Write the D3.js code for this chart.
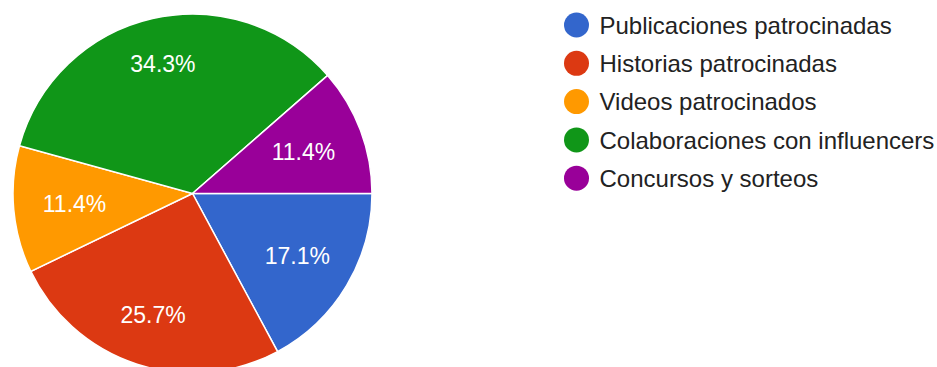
<!DOCTYPE html>
<html>
<head>
<meta charset="utf-8">
<script src="https://cdn.jsdelivr.net/npm/d3@7"></script>
<style>
  html, body { margin: 0; padding: 0; background: #fff; }
  svg { display: block; }
  text { font-family: "Liberation Sans", Arial, sans-serif; }
</style>
</head>
<body>
<svg id="chart" width="937" height="367"></svg>
<script>
// Response categories, counts and slice colours
const categories = [
  "Publicaciones patrocinadas",
  "Historias patrocinadas",
  "Videos patrocinados",
  "Colaboraciones con influencers",
  "Concursos y sorteos"
];
const counts = [6, 9, 4, 12, 4];
const colors = ["#3366cc", "#dc3912", "#ff9900", "#109618", "#990099"];

const svg = d3.select("#chart");
const cx = 192.5, cy = 193.5, R = 179.5;
const total = d3.sum(counts);

const data = categories.map((c, i) => ({ name: c, value: counts[i], color: colors[i] }));

// Slices run clockwise from 3 o'clock
const pie = d3.pie()
  .sort(null)
  .value(d => d.value)
  .startAngle(Math.PI / 2)
  .endAngle(Math.PI / 2 + 2 * Math.PI);

const arc = d3.arc().innerRadius(0).outerRadius(R);
const arcs = pie(data);

const g = svg.append("g").attr("transform", `translate(${cx},${cy})`);

g.selectAll("path.slice")
  .data(arcs)
  .join("path")
  .attr("class", "slice")
  .attr("d", arc)
  .attr("fill", d => d.data.color)
  .attr("stroke", "#ffffff")
  .attr("stroke-width", 1.5);

const fmt = v => (v / total * 100).toFixed(1) + "%";

// Percentage labels; larger slices push their label a little further out
g.selectAll("text.pct")
  .data(arcs)
  .join("text")
  .attr("class", "pct")
  .attr("transform", d => {
    const frac = d.data.value / total;
    const lr = R * (0.62 + 0.35 * frac);
    const [x, y] = d3.arc().innerRadius(lr).outerRadius(lr).centroid(d);
    return `translate(${x},${y})`;
  })
  .attr("text-anchor", "middle")
  .attr("dy", "0.36em")
  .attr("fill", "#ffffff")
  .attr("font-size", 23)
  .text(d => fmt(d.data.value));

// Legend
const legend = svg.append("g").attr("transform", "translate(576.5,25)");
const rowStep = 38.3;
const rows = legend.selectAll("g.row")
  .data(data)
  .join("g")
  .attr("class", "row")
  .attr("transform", (d, i) => `translate(0,${i * rowStep})`);

rows.append("circle")
  .attr("r", 12.5)
  .attr("fill", d => d.color);

rows.append("text")
  .attr("x", 23)
  .attr("dy", "0.36em")
  .attr("font-size", 24)
  .attr("fill", "#222222")
  .text(d => d.name);
</script>
</body>
</html>
